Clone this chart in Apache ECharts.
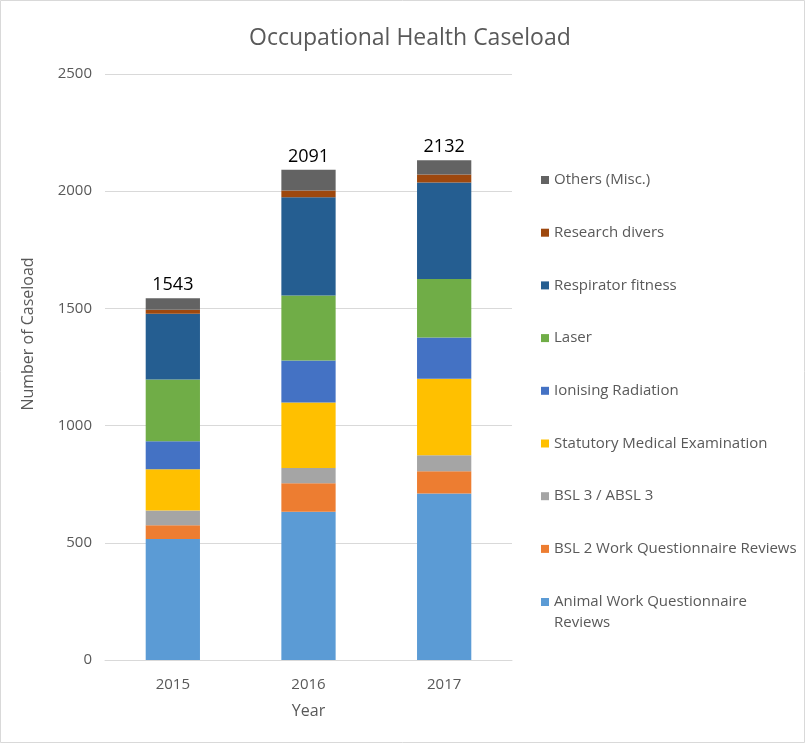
<!DOCTYPE html>
<html>
<head>
<meta charset="utf-8">
<title>Occupational Health Caseload</title>
<script src="https://cdn.jsdelivr.net/npm/echarts@6/dist/echarts.min.js"></script>
<style>
  html, body { margin: 0; padding: 0; background: #fff; }
  #chart { width: 806px; height: 744px; }
</style>
</head>
<body>
<div id="chart"></div>
<script>
const years = ['2015', '2016', '2017']
const totals = [1543, 2091, 2132]

// stacked from the bottom up
const animalWork = [516, 632, 710]
const bsl2 = [59, 122, 95]
const bsl3 = [63, 65, 68]
const statutory = [176, 280, 327]
const ionising = [119, 179, 176]
const laser = [264, 277, 249]
const respirator = [280, 419, 412]
const divers = [17, 29, 34]
const others = [49, 88, 61]

const yTicks = [0, 500, 1000, 1500, 2000, 2500]

const textColor = '#595959'
const font = 'Open Sans'
const animalName = 'Animal Work Questionnaire Reviews'

const chart = echarts.init(document.getElementById('chart'))

function bar(name, data, color) {
  return {
    name: name,
    type: 'bar',
    stack: 'total',
    barWidth: '40%',
    data: data,
    itemStyle: { color: color },
    animation: false
  }
}

const series = [
  bar(animalName, animalWork, '#5B9BD5'),
  bar('BSL 2 Work Questionnaire Reviews', bsl2, '#ED7D31'),
  bar('BSL 3 / ABSL 3', bsl3, '#A5A5A5'),
  bar('Statutory Medical Examination', statutory, '#FFC000'),
  bar('Ionising Radiation', ionising, '#4472C4'),
  bar('Laser', laser, '#70AD47'),
  bar('Respirator fitness', respirator, '#255E91'),
  bar('Research divers', divers, '#9E480E'),
  bar('Others (Misc.)', others, '#636363')
]

// total on top of each column
series[series.length - 1].label = {
  show: true,
  position: 'top',
  distance: 4,
  color: '#000',
  fontFamily: font,
  fontSize: 18,
  formatter: function (p) { return totals[p.dataIndex] }
}

// legend runs top-down in reverse stack order; the wrapped last entry gets its own legend
const legendNames = series.map(s => s.name).reverse().filter(n => n !== animalName)
const legendText = { color: textColor, fontFamily: font, fontSize: 15, lineHeight: 21 }

chart.setOption({
  backgroundColor: '#fff',
  textStyle: { fontFamily: font },
  title: {
    text: 'Occupational Health Caseload',
    left: 244,
    top: 22,
    textStyle: { color: textColor, fontFamily: font, fontSize: 23, fontWeight: 'normal' }
  },
  graphic: [{
    type: 'rect',
    shape: { x: 0.5, y: 0.5, width: 804, height: 742 },
    style: { fill: 'none', stroke: '#d9d9d9', lineWidth: 1 },
    silent: true
  }],
  legend: [{
    orient: 'vertical',
    left: 536,
    top: 164.5,
    itemWidth: 8,
    itemHeight: 8,
    itemGap: 31.7,
    icon: 'rect',
    data: legendNames,
    textStyle: legendText
  }, {
    // icon sits level with the first line of the wrapped text
    orient: 'vertical',
    left: 536,
    top: 586.5,
    itemWidth: 8,
    itemHeight: 29,
    icon: 'path://M0,0H8V8H0Z M0,29H8',
    data: [animalName],
    formatter: function () { return 'Animal Work Questionnaire\nReviews' },
    textStyle: legendText
  }],
  grid: {
    left: 105,
    right: 294,
    top: 74,
    bottom: 84
  },
  xAxis: {
    type: 'category',
    data: years,
    name: 'Year',
    nameLocation: 'middle',
    nameGap: 43,
    nameTextStyle: { color: textColor, fontSize: 16 },
    axisLine: { lineStyle: { color: '#d9d9d9' } },
    axisTick: { show: false },
    axisLabel: { color: textColor, fontSize: 15, margin: 17 }
  },
  yAxis: {
    type: 'value',
    min: yTicks[0],
    max: yTicks[yTicks.length - 1],
    interval: 500,
    name: 'Number of Caseload',
    nameLocation: 'middle',
    nameGap: 69,
    // title sits a bit above the middle of the axis
    nameTextStyle: { color: textColor, fontSize: 16, padding: [0, 0, 0, 66] },
    axisLine: { show: false },
    axisTick: { show: false },
    axisLabel: {
      color: textColor,
      fontSize: 15,
      margin: 13,
      formatter: function (v) { return String(v) }
    },
    splitLine: { lineStyle: { color: '#d9d9d9' } }
  },
  series: series
})
</script>
</body>
</html>
